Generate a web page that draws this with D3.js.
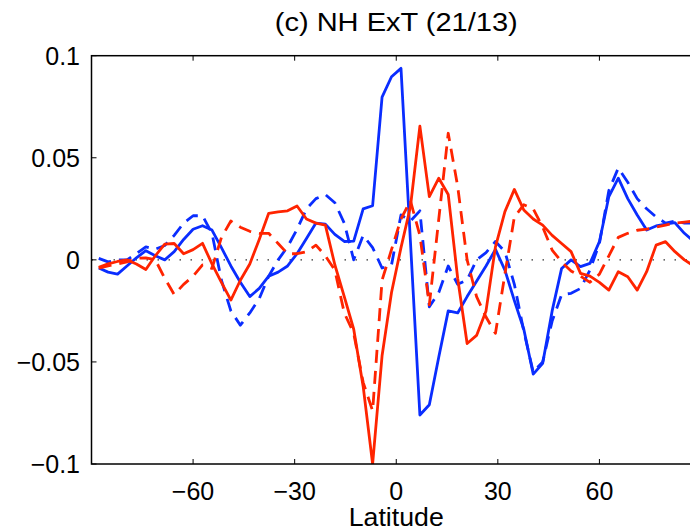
<!DOCTYPE html>
<html>
<head>
<meta charset="utf-8">
<script src="https://cdn.jsdelivr.net/npm/d3@7"></script>
<style>
  body { margin: 0; background: #fff; }
  svg { display: block; }
  text { font-family: "Liberation Sans", Arial, Helvetica, sans-serif; fill: #000; }
</style>
</head>
<body>
<div id="chart"></div>
<script>
// Gaussian latitudes (T42 grid), south to north
var lat = [-87.86, -85.10, -82.31, -79.53, -76.74, -73.95, -71.16, -68.37, -65.58, -62.79,
  -60.00, -57.21, -54.42, -51.63, -48.84, -46.04, -43.25, -40.46, -37.67, -34.88,
  -32.09, -29.30, -26.51, -23.72, -20.93, -18.14, -15.35, -12.56, -9.77, -6.98,
  -4.19, -1.40, 1.40, 4.19, 6.98, 9.77, 12.56, 15.35, 18.14, 20.93,
  23.72, 26.51, 29.30, 32.09, 34.88, 37.67, 40.46, 43.25, 46.04, 48.84,
  51.63, 54.42, 57.21, 60.00, 62.79, 65.58, 68.37, 71.16, 73.95, 76.74,
  79.53, 82.31, 85.10, 87.86];

var blueSolid = [-0.004, -0.006, -0.007, -0.003, 0.001, 0.0045, 0.002, 0.000, 0.004, 0.010,
  0.015, 0.0167, 0.0146, 0.006, -0.003, -0.011, -0.018, -0.014, -0.008, -0.006,
  -0.003, 0.003, 0.0105, 0.018, 0.0175, 0.0125, 0.009, 0.0092, 0.025, 0.0265,
  0.0797, 0.0897, 0.0938, 0.009, -0.076, -0.071, -0.0476, -0.025, -0.026, -0.018,
  -0.0105, -0.003, 0.0051, -0.005, -0.020, -0.034, -0.056, -0.0507, -0.025, -0.0042,
  0.000, -0.0033, -0.0017, 0.0089, 0.031, 0.040, 0.030, 0.022, 0.0146, 0.0166,
  0.0175, 0.0182, 0.013, 0.009];

var blueDashed = [0.0007, -0.001, 0.000, 0.000, 0.003, 0.0064, 0.0052, 0.007, 0.012, 0.018,
  0.0216, 0.0216, 0.013, -0.010, -0.025, -0.032, -0.026, -0.019, -0.008, 0.000,
  0.0064, 0.015, 0.025, 0.030, 0.032, 0.028, 0.018, 0.000, 0.012, 0.006,
  -0.004, -0.0025, 0.022, 0.019, 0.024, -0.023, -0.016, -0.003, -0.012, -0.0099,
  0.000, 0.0035, 0.009, 0.004, -0.012, -0.035, -0.055, -0.050, -0.030, -0.017,
  -0.0164, -0.014, -0.005, 0.008, 0.034, 0.045, 0.038, 0.030, 0.025, 0.021,
  0.018, 0.019, 0.018, 0.018];

var redSolid = [-0.0037, -0.002, -0.0008, 0.000, -0.002, -0.0047, 0.002, 0.0077, 0.008, 0.003,
  0.005, 0.0081, -0.002, -0.011, -0.0197, -0.010, -0.002, 0.010, 0.0228, 0.0235,
  0.024, 0.0264, 0.020, 0.018, 0.017, -0.0024, -0.018, -0.034, -0.062, -0.100,
  -0.047, -0.016, 0.006, 0.026, 0.0655, 0.031, 0.040, 0.032, -0.009, -0.041,
  -0.037, -0.025, 0.0064, 0.0236, 0.0345, 0.0244, 0.020, 0.017, 0.012, 0.008,
  0.004, -0.0066, -0.008, -0.011, -0.0148, -0.0058, -0.0083, -0.0148, -0.0058, 0.0072,
  0.0089, 0.004, 0.000, -0.003];

var redDashed = [-0.004, -0.003, -0.002, -0.001, 0.0007, 0.001, 0.000, -0.009, -0.017, -0.012,
  -0.008, -0.0025, -0.0042, 0.011, 0.019, 0.016, 0.014, 0.013, 0.013, 0.008,
  0.003, 0.003, 0.004, 0.0072, 0.002, -0.005, -0.026, -0.036, -0.060, -0.074,
  -0.010, 0.005, 0.020, 0.029, 0.012, -0.022, 0.020, 0.062, 0.036, 0.000,
  -0.018, -0.028, -0.036, -0.007, 0.021, 0.027, 0.025, 0.016, 0.0048, -0.001,
  -0.0055, -0.008, -0.011, -0.007, 0.002, 0.011, 0.013, 0.0145, 0.015, 0.016,
  0.017, 0.018, 0.0185, 0.019];

var xTicks = [-60, -30, 0, 30, 60];
var yTicks = [-0.1, -0.05, 0, 0.05, 0.1];
var yTickLabels = ["\u22120.1", "\u22120.05", "0", "0.05", "0.1"];
var titleText = "(c) NH ExT (21/13)";
var xLabel = "Latitude";

var series = [
  { values: blueSolid, color: "#0a2dff", dash: null },
  { values: blueDashed, color: "#0a2dff", dash: "13,8" },
  { values: redSolid, color: "#ff2400", dash: null },
  { values: redDashed, color: "#ff2400", dash: "13,8" }
];

function drawChart() {
  var width = 690, height = 531;
  var margin = { left: 91.5, right: 701, top: 55.7, bottom: 464 };

  var svg = d3.select("#chart").append("svg")
    .attr("width", width)
    .attr("height", height);

  svg.append("rect").attr("width", width).attr("height", height).attr("fill", "#fff");

  var x = d3.scaleLinear().domain([-90, 90]).range([margin.left, margin.right]);
  var y = d3.scaleLinear().domain([-0.1, 0.1]).range([margin.bottom, margin.top]);

  svg.append("clipPath").attr("id", "plotclip")
    .append("rect")
    .attr("x", margin.left).attr("y", margin.top)
    .attr("width", margin.right - margin.left).attr("height", margin.bottom - margin.top);

  var plot = svg.append("g").attr("clip-path", "url(#plotclip)");

  // dotted zero line
  plot.append("line")
    .attr("x1", x(-90)).attr("x2", x(90))
    .attr("y1", y(0)).attr("y2", y(0))
    .attr("stroke", "#333")
    .attr("stroke-width", 1.3)
    .attr("stroke-dasharray", "1.5,9.5");

  var line = d3.line()
    .x(function(d, i) { return x(lat[i]); })
    .y(function(d) { return y(d); });

  series.forEach(function(s) {
    plot.append("path")
      .datum(s.values)
      .attr("fill", "none")
      .attr("stroke", s.color)
      .attr("stroke-width", 2.8)
      .attr("stroke-linejoin", "round")
      .attr("stroke-dasharray", s.dash)
      .attr("d", line);
  });

  // axes box with inward, mirrored ticks
  var tickLen = 5;
  var axisG = svg.append("g")
    .attr("stroke", "#000")
    .attr("fill", "none");

  axisG.append("rect")
    .attr("x", margin.left).attr("y", margin.top)
    .attr("width", margin.right - margin.left).attr("height", margin.bottom - margin.top)
    .attr("stroke-width", 1.5);

  xTicks.forEach(function(t) {
    axisG.append("line").attr("x1", x(t)).attr("x2", x(t)).attr("y1", margin.bottom).attr("y2", margin.bottom - tickLen).attr("stroke-width", 1);
    axisG.append("line").attr("x1", x(t)).attr("x2", x(t)).attr("y1", margin.top).attr("y2", margin.top + tickLen).attr("stroke-width", 1);
  });
  yTicks.forEach(function(t) {
    axisG.append("line").attr("x1", margin.left).attr("x2", margin.left + tickLen).attr("y1", y(t)).attr("y2", y(t)).attr("stroke-width", 1);
    axisG.append("line").attr("x1", margin.right).attr("x2", margin.right - tickLen).attr("y1", y(t)).attr("y2", y(t)).attr("stroke-width", 1);
  });

  // tick labels
  svg.append("g").selectAll("text")
    .data(yTicks)
    .join("text")
    .attr("x", 80)
    .attr("y", function(d) { return y(d); })
    .attr("dy", "0.36em")
    .attr("text-anchor", "end")
    .attr("font-size", 25)
    .text(function(d, i) { return yTickLabels[i]; });

  svg.append("g").selectAll("text")
    .data(xTicks)
    .join("text")
    .attr("x", function(d) { return x(d); })
    .attr("y", 500)
    .attr("text-anchor", "middle")
    .attr("font-size", 25)
    .text(function(d) { return d < 0 ? "\u2212" + Math.abs(d) : d; });

  svg.append("text")
    .attr("x", x(0))
    .attr("y", 526)
    .attr("text-anchor", "middle")
    .attr("font-size", 25)
    .attr("textLength", 95)
    .attr("lengthAdjust", "spacingAndGlyphs")
    .text(xLabel);

  svg.append("text")
    .attr("x", x(0))
    .attr("y", 31)
    .attr("text-anchor", "middle")
    .attr("font-size", 25)
    .attr("textLength", 243)
    .attr("lengthAdjust", "spacingAndGlyphs")
    .text(titleText);
}

drawChart();
</script>
</body>
</html>
